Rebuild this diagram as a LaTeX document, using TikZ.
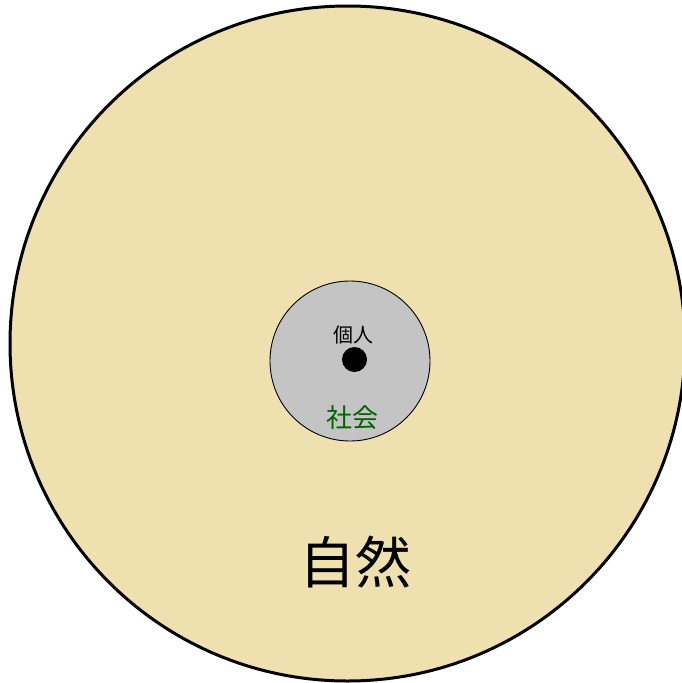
\documentclass[tikz,border=0pt]{standalone}
\usepackage{fontspec}
\newfontfamily\cjk{Noto Sans CJK JP}
\definecolor{shizen}{RGB}{238,225,175}
\definecolor{shakai}{RGB}{196,196,196}
\definecolor{shakaitext}{RGB}{0,100,0}
\begin{document}
\begin{tikzpicture}[x=1pt,y=-1pt,
  outerring/.style={circle,draw=black,line width=3pt,fill=shizen,minimum size=675pt,inner sep=0pt},
  innerring/.style={circle,draw=black,line width=0.9pt,fill=shakai,minimum size=160pt,inner sep=0pt},
  dotmark/.style={circle,fill=black,minimum size=25pt,inner sep=0pt},
  lbl/.style={font=\cjk,inner sep=0pt}]
\clip (0,0) rectangle (682,683);
\fill[white] (0,0) rectangle (682,683);
\node[outerring] (nature) at (347.5,343.5) {};
\node[innerring] (society) at (350,361) {};
\node[dotmark] (person) at (354.5,359.5) {};
\node[lbl,font=\cjk\fontsize{20pt}{20pt}\selectfont] (tperson) at (353,335) {個人};
\node[lbl,text=shakaitext,font=\cjk\fontsize{26pt}{26pt}\selectfont] (tsociety) at (352,418) {社会};
\node[lbl,font=\cjk\fontsize{56pt}{56pt}\selectfont] (tnature) at (355,562) {自然};
\end{tikzpicture}
\end{document}
